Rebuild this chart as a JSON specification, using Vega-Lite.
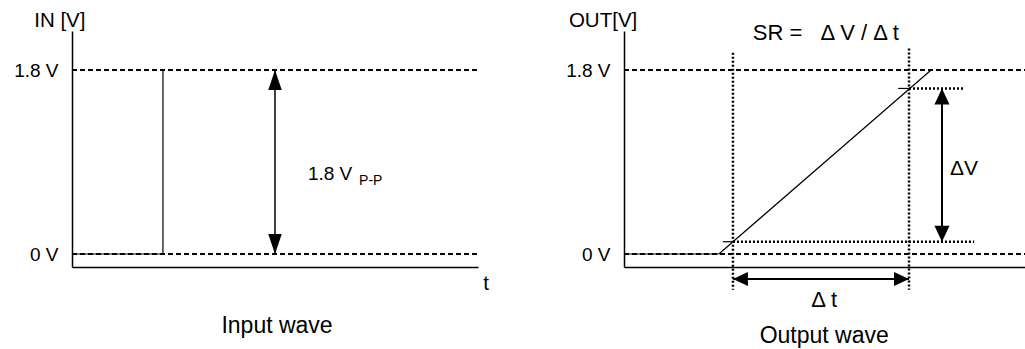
{
  "$schema": "https://vega.github.io/schema/vega-lite/v6.json",
  "background": "white",
  "autosize": {"type": "pad"},
  "padding": {"left": 13, "top": 10, "right": 0, "bottom": 4},
  "bounds": "flush",
  "spacing": 146,
  "config": {
    "view": {"stroke": null},
    "text": {"font": "Liberation Sans", "fontSize": 21, "color": "black"},
    "axis": {"labelFont": "Liberation Sans", "labelColor": "black", "domainColor": "black"}
  },
  "datasets": {
    "inSegs": [
      {"kind": "dash", "x": 0, "y": 1.8, "x2": 10, "y2": 1.8},
      {"kind": "dash", "x": 0, "y": 0, "x2": 10, "y2": 0},
      {"kind": "thin", "x": 0, "y": 0, "x2": 2.24, "y2": 0},
      {"kind": "thin", "x": 2.24, "y": 0, "x2": 2.24, "y2": 1.8},
      {"kind": "shaft", "x": 5.0, "y": 0, "x2": 5.0, "y2": 1.8}
    ],
    "inHeads": [
      {"x": 5.0, "y": 1.8, "dir": "up"},
      {"x": 5.0, "y": 0, "dir": "down"}
    ],
    "inTitle": [
      {"label": "IN [V]", "x": -0.3, "y": 2.28},
      {"label": "t", "x": 10.2, "y": -0.29}
    ],
    "inCaption": [
      {"label": "Input wave", "x": 5.05, "y": -0.7}
    ],
    "inLeft": [
      {"label": "1.8 V", "x": 5.81, "y": 0.78}
    ],
    "inSub": [
      {"label": "P-P", "x": 7.07, "y": 0.71}
    ],
    "outSegs": [
      {"kind": "dash", "x": 0, "y": 1.8, "x2": 10, "y2": 1.8},
      {"kind": "dash", "x": 0, "y": 0, "x2": 10, "y2": 0},
      {"kind": "dot", "x": 2.71, "y": 1.97, "x2": 2.71, "y2": -0.35},
      {"kind": "dot", "x": 7.09, "y": 2.01, "x2": 7.09, "y2": -0.35},
      {"kind": "dot", "x": 7.09, "y": 1.62, "x2": 8.47, "y2": 1.62},
      {"kind": "dot", "x": 2.71, "y": 0.12, "x2": 8.71, "y2": 0.12},
      {"kind": "thin", "x": 0, "y": 0, "x2": 2.36, "y2": 0},
      {"kind": "thin", "x": 2.36, "y": 0, "x2": 7.64, "y2": 1.8},
      {"kind": "thin", "x": 6.82, "y": 1.62, "x2": 7.09, "y2": 1.62},
      {"kind": "thin", "x": 2.46, "y": 0.12, "x2": 2.71, "y2": 0.12},
      {"kind": "shaft", "x": 7.91, "y": 1.62, "x2": 7.91, "y2": 0.12},
      {"kind": "shaft", "x": 2.71, "y": -0.245, "x2": 7.09, "y2": -0.245}
    ],
    "outHeads": [
      {"x": 7.91, "y": 1.62, "dir": "up"},
      {"x": 7.91, "y": 0.12, "dir": "down"},
      {"x": 2.71, "y": -0.245, "dir": "left"},
      {"x": 7.09, "y": -0.245, "dir": "right"}
    ],
    "outTitle": [
      {"label": "OUT[V]", "x": -0.52, "y": 2.28}
    ],
    "outFormula": [
      {"label": "SR =\u00a0\u00a0\u00a0Δ V / Δ t", "x": 5.02, "y": 2.16},
      {"label": "Δ t", "x": 4.98, "y": -0.45}
    ],
    "outCaption": [
      {"label": "Output wave", "x": 4.98, "y": -0.8}
    ],
    "outLeft": [
      {"label": "ΔV", "x": 8.11, "y": 0.83}
    ]
  },
  "hconcat": [
    {
      "width": 406,
      "height": 236,
      "encoding": {
        "x": {"field": "x", "type": "quantitative", "scale": {"domain": [0, 10], "nice": false, "zero": false},
              "axis": {"labels": false, "ticks": false, "grid": false, "title": null, "domainWidth": 1.5}},
        "y": {"field": "y", "type": "quantitative", "scale": {"domain": [-0.127, 2.182], "nice": false, "zero": false},
              "axis": {"values": [0, 1.8], "labelExpr": "datum.value == 0 ? '0 V' : '1.8 V'", "ticks": false, "grid": false, "title": null, "labelFontSize": 19, "labelPadding": 14, "domainWidth": 1.5}}
      },
      "layer": [
        {"data": {"name": "inSegs"}, "transform": [{"filter": "datum.kind == 'dash'"}],
         "mark": {"type": "rule", "color": "black", "strokeWidth": 2, "strokeDash": [5, 3]},
         "encoding": {"x2": {"field": "x2"}, "y2": {"field": "y2"}}},
        {"data": {"name": "inSegs"}, "transform": [{"filter": "datum.kind == 'thin'"}],
         "mark": {"type": "rule", "color": "black", "strokeWidth": 1.2},
         "encoding": {"x2": {"field": "x2"}, "y2": {"field": "y2"}}},
        {"data": {"name": "inSegs"}, "transform": [{"filter": "datum.kind == 'shaft'"}],
         "mark": {"type": "rule", "color": "black", "strokeWidth": 1.5},
         "encoding": {"x2": {"field": "x2"}, "y2": {"field": "y2"}}},
        {"data": {"name": "inHeads"},
         "mark": {"type": "point", "filled": true, "color": "black", "opacity": 1, "size": 400, "strokeWidth": 0},
         "encoding": {"shape": {"field": "dir", "type": "nominal", "legend": null,
           "scale": {"domain": ["up", "down"], "range": ["M0,0L0.675,2L-0.675,2Z", "M0,0L0.675,-2L-0.675,-2Z"]}}}},
        {"data": {"name": "inTitle"}, "mark": {"type": "text", "align": "center", "baseline": "middle", "fontSize": 20.5},
         "encoding": {"text": {"field": "label"}}},
        {"data": {"name": "inCaption"}, "mark": {"type": "text", "align": "center", "baseline": "middle", "fontSize": 23},
         "encoding": {"text": {"field": "label"}}},
        {"data": {"name": "inLeft"}, "mark": {"type": "text", "align": "left", "baseline": "middle", "fontSize": 19},
         "encoding": {"text": {"field": "label"}}},
        {"data": {"name": "inSub"}, "mark": {"type": "text", "align": "left", "baseline": "middle", "fontSize": 14},
         "encoding": {"text": {"field": "label"}}}
      ]
    },
    {
      "width": 402,
      "height": 236,
      "encoding": {
        "x": {"field": "x", "type": "quantitative", "scale": {"domain": [0, 10], "nice": false, "zero": false},
              "axis": {"labels": false, "ticks": false, "grid": false, "title": null, "domainWidth": 1.5}},
        "y": {"field": "y", "type": "quantitative", "scale": {"domain": [-0.127, 2.182], "nice": false, "zero": false},
              "axis": {"values": [0, 1.8], "labelExpr": "datum.value == 0 ? '0 V' : '1.8 V'", "ticks": false, "grid": false, "title": null, "labelFontSize": 19, "labelPadding": 14, "domainWidth": 1.5}}
      },
      "layer": [
        {"data": {"name": "outSegs"}, "transform": [{"filter": "datum.kind == 'dash'"}],
         "mark": {"type": "rule", "color": "black", "strokeWidth": 2, "strokeDash": [5, 3]},
         "encoding": {"x2": {"field": "x2"}, "y2": {"field": "y2"}}},
        {"data": {"name": "outSegs"}, "transform": [{"filter": "datum.kind == 'dot'"}],
         "mark": {"type": "rule", "color": "black", "strokeWidth": 2.5, "strokeDash": [2, 2]},
         "encoding": {"x2": {"field": "x2"}, "y2": {"field": "y2"}}},
        {"data": {"name": "outSegs"}, "transform": [{"filter": "datum.kind == 'thin'"}],
         "mark": {"type": "rule", "color": "black", "strokeWidth": 1.2},
         "encoding": {"x2": {"field": "x2"}, "y2": {"field": "y2"}}},
        {"data": {"name": "outSegs"}, "transform": [{"filter": "datum.kind == 'shaft'"}],
         "mark": {"type": "rule", "color": "black", "strokeWidth": 2},
         "encoding": {"x2": {"field": "x2"}, "y2": {"field": "y2"}}},
        {"data": {"name": "outHeads"},
         "mark": {"type": "point", "filled": true, "color": "black", "opacity": 1, "size": 256, "strokeWidth": 0},
         "encoding": {"shape": {"field": "dir", "type": "nominal", "legend": null,
           "scale": {"domain": ["up", "down", "left", "right"],
                     "range": ["M0,0L0.94,2L-0.94,2Z", "M0,0L0.94,-2L-0.94,-2Z", "M0,0L1.875,-0.875L1.875,0.875Z", "M0,0L-1.875,-0.875L-1.875,0.875Z"]}}}},
        {"data": {"name": "outTitle"}, "mark": {"type": "text", "align": "center", "baseline": "middle", "fontSize": 20.5},
         "encoding": {"text": {"field": "label"}}},
        {"data": {"name": "outFormula"}, "mark": {"type": "text", "align": "center", "baseline": "middle", "fontSize": 22},
         "encoding": {"text": {"field": "label"}}},
        {"data": {"name": "outCaption"}, "mark": {"type": "text", "align": "center", "baseline": "middle", "fontSize": 23},
         "encoding": {"text": {"field": "label"}}},
        {"data": {"name": "outLeft"}, "mark": {"type": "text", "align": "left", "baseline": "middle", "fontSize": 21},
         "encoding": {"text": {"field": "label"}}}
      ]
    }
  ],
  "resolve": {"scale": {"shape": "independent"}}
}
